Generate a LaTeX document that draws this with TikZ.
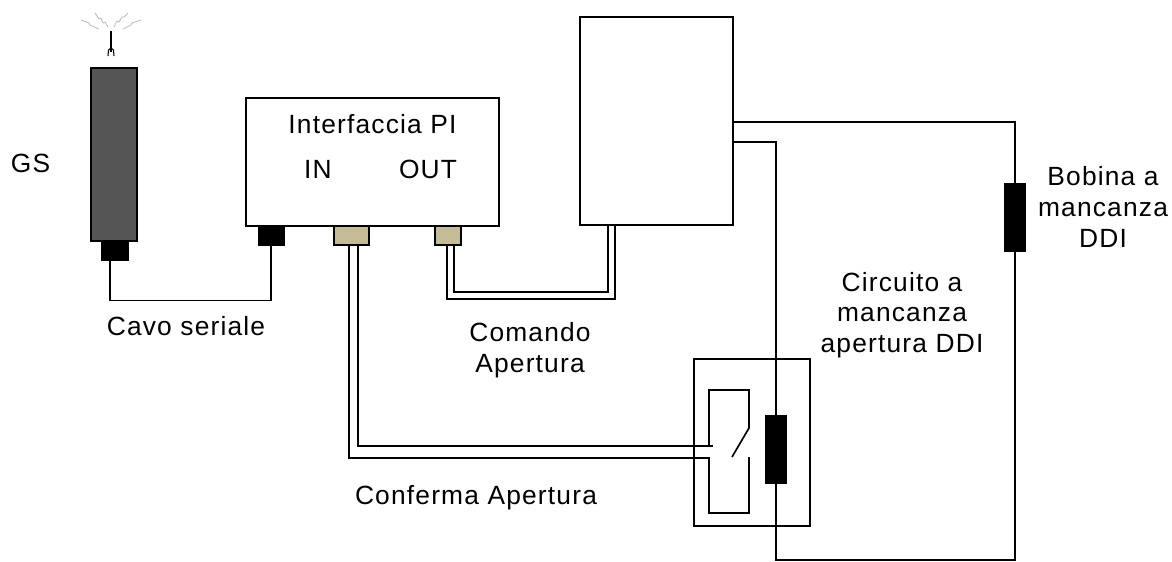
\documentclass[tikz,border=0pt]{standalone}
\usepackage{fontspec}
\setmainfont[LetterSpace=4.5]{Liberation Sans}
\usetikzlibrary{positioning}
\definecolor{plugtan}{RGB}{195,188,150}
\definecolor{gsgrey}{RGB}{85,85,85}
\tikzset{
    wire/.style={line width=0.95pt,line cap=square},
    box/.style={draw,line width=0.95pt,fill=white,minimum width=0pt,minimum height=0pt,inner sep=0pt},
    coil/.style={fill=black,draw=black,inner sep=0pt,minimum width=21\unit,minimum height=68\unit},
    plug/.style={fill=black,draw=black,inner sep=0pt,minimum width=26\unit,minimum height=19\unit},
    tanplug/.style={draw,line width=0.95pt,fill=plugtan,inner sep=0pt,minimum height=19\unit},
    spark/.style={draw=black!25,line width=0.5pt},
    lab/.style={font=\fontsize{15}{17.5}\selectfont,align=center,inner sep=0pt}
}
\newcommand{\unit}{*0.02cm}
\begin{document}
\begin{tikzpicture}[x=0.02cm,y=-0.02cm]
\useasboundingbox (0,0) rectangle (1172,561);
% GS
\node[box,fill=gsgrey,minimum width=46\unit,minimum height=173\unit] (gs) at (114,154.5) {};
\node[plug,minimum width=27\unit] (gsplug) at (115,250.5) {};
\draw[line width=1.2pt] (111,31)--(111,52);
\draw[line width=0.6pt] (108,56)--(108.5,50)--(111,48)--(113.5,50)--(114,56);
\draw[spark] (81,20)--(89,23)--(90,25)--(99,29);
\draw[spark] (95,13)--(99,19)--(101,18)--(103,23)--(105,22)--(108,27);
\draw[spark] (114,27)--(117,21)--(119,22)--(122,17)--(124,17)--(128,13);
\draw[spark] (123,29)--(131,25)--(132,23)--(141,20);
% main boxes
\node[box,minimum width=253\unit,minimum height=128\unit] (pi) at (372.5,162) {};
\node[box,minimum width=153\unit,minimum height=208\unit] (relay) at (656.5,121) {};
\node[plug] (piplug) at (271,235.5) {};
\node[tanplug,minimum width=35\unit] (inplug) at (351.5,235.5) {};
\node[tanplug,minimum width=26\unit] (outplug) at (448,235.5) {};
% contact
\node[box,fill=none,minimum width=116\unit,minimum height=167\unit] (aux) at (752,442.5) {};
\node[coil] (coilb) at (776,449) {};
\node[coil] (coila) at (1015,217.5) {};
\coordinate (cup) at (749,428);
\coordinate (cdown) at (749,457);
\coordinate (blade) at (732,457);
% wires
\draw[wire] (gsplug.south -| 110,0)--(110,300.5)--(271,300.5)--(piplug.south);
\draw[wire] (inplug.south -| 349,0)--(349,458)--(709,458)--(709,513)--(749,513)--(cdown);
\draw[wire] (inplug.south -| 358,0)--(358,446)--(713,446);
\draw[wire] (709,446)--(709,390)--(749,390)--(cup)--(blade);
\draw[wire] (outplug.south -| 447,0)--(447,299)--(615,299)--(615,226);
\draw[wire] (outplug.south -| 454,0)--(454,292)--(608,292)--(608,226);
\draw[wire] (733,142)--(776,142)--(coilb.north);
\draw[wire] (coilb.south)--(776,560)--(1015,560)--(coila.south);
\draw[wire] (coila.north)--(1015,122)--(733,122);
% labels
\node[lab] (gslab) at (30.5,163) {GS};
\node[lab] (pilab) at (372.5,124) {Interfaccia PI};
\node[lab] (inlab) at (318,169) {IN};
\node[lab] (outlab) at (428,169) {OUT};
\node[lab] (serlab) at (186,326) {Cavo seriale};
\node[lab] (comlab) at (530,350) {Comando\\Apertura};
\node[lab] (conflab) at (476,498) {Conferma Apertura};
\node[lab] (circlab) at (902,315) {Circuito a\\mancanza\\apertura DDI};
\node[lab] (boblab) at (1103,207) {Bobina a\\mancanza\\DDI};
\end{tikzpicture}
\end{document}
